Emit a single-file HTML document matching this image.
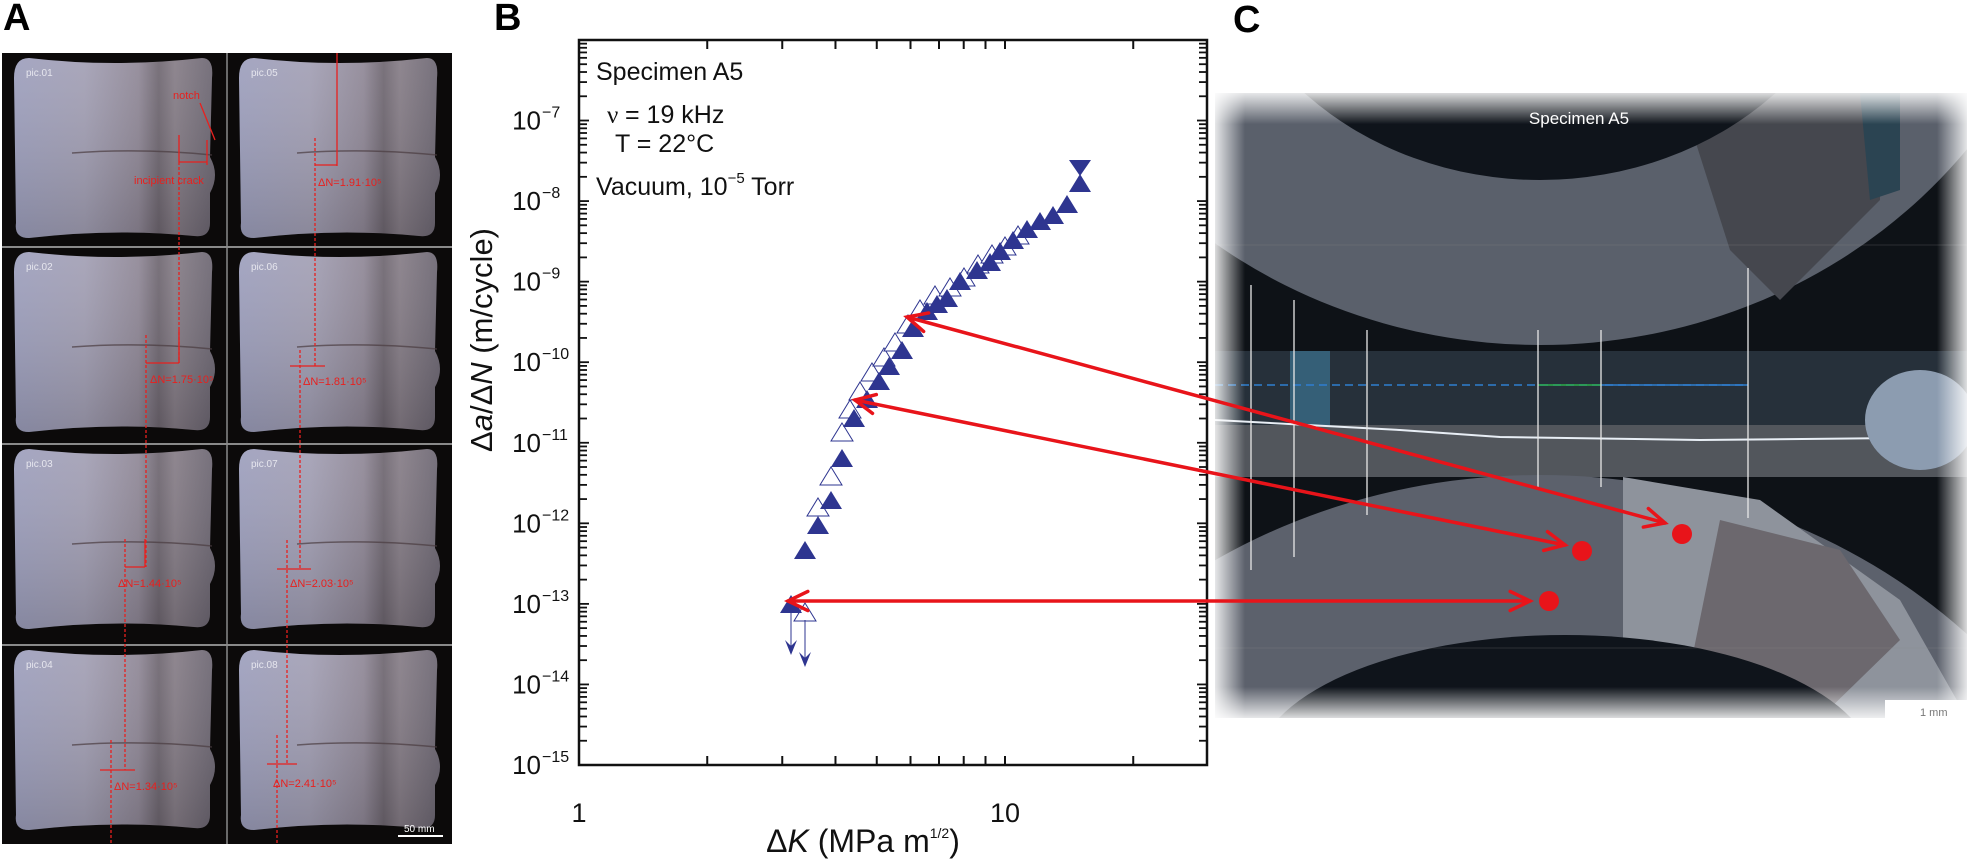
<!DOCTYPE html>
<html><head><meta charset="utf-8"><style>
html,body{margin:0;padding:0;background:#fff;width:1985px;height:859px;overflow:hidden;}
svg{display:block;font-family:"Liberation Sans",sans-serif;}
</style></head><body>
<svg id="s" width="1985" height="859" viewBox="0 0 1985 859" xmlns="http://www.w3.org/2000/svg">
<defs>
<linearGradient id="scr" x1="0" x2="1" y1="0" y2="0">
<stop offset="0" stop-color="#9d9fbd"/><stop offset="0.35" stop-color="#a29fb4"/>
<stop offset="0.62" stop-color="#8f8796"/><stop offset="0.72" stop-color="#6e6670"/>
<stop offset="0.8" stop-color="#857c86"/><stop offset="1" stop-color="#6a6470"/>
</linearGradient>
<linearGradient id="scrv" x1="0" x2="0" y1="0" y2="1">
<stop offset="0" stop-color="#fff" stop-opacity="0.08"/><stop offset="1" stop-color="#000" stop-opacity="0.15"/>
</linearGradient>
<linearGradient id="fl" x1="0" x2="1" y1="0" y2="0">
<stop offset="0" stop-color="#fff" stop-opacity="0.85"/><stop offset="0.04" stop-color="#fff" stop-opacity="0"/>
<stop offset="0.96" stop-color="#fff" stop-opacity="0"/><stop offset="1" stop-color="#fff" stop-opacity="0.85"/>
</linearGradient>
<linearGradient id="ft" x1="0" x2="0" y1="0" y2="1">
<stop offset="0" stop-color="#fff" stop-opacity="0.85"/><stop offset="0.05" stop-color="#fff" stop-opacity="0"/>
<stop offset="0.95" stop-color="#fff" stop-opacity="0"/><stop offset="1" stop-color="#fff" stop-opacity="0.85"/>
</linearGradient>
<clipPath id="cc"><rect x="1215" y="93" width="752" height="625"/></clipPath>
</defs>
<!-- Panel A -->
<text x="3" y="30" font-size="38" font-weight="bold">A</text>
<rect x="2" y="53" width="450" height="791" fill="#0c0a0a"/>
<g id="cells"></g>
<g stroke="#8a8a8a" stroke-width="2"><line x1="2" y1="247" x2="452" y2="247"/><line x1="2" y1="444" x2="452" y2="444"/><line x1="2" y1="645" x2="452" y2="645"/><line x1="227" y1="53" x2="227" y2="844" stroke-width="1.5"/></g>
<g id="ann" fill="none" stroke="#e8201e" stroke-width="1.3"></g>
<g font-family="Liberation Sans,sans-serif" font-size="11" fill="#e8201e">
<text x="173" y="99">notch</text><text x="134" y="184">incipient crack</text>
<text x="318" y="186">ΔN=1.91·10⁵</text><text x="150" y="383">ΔN=1.75·10⁵</text>
<text x="303" y="385">ΔN=1.81·10⁵</text><text x="118" y="587">ΔN=1.44·10⁵</text>
<text x="290" y="587">ΔN=2.03·10⁵</text><text x="114" y="790">ΔN=1.34·10⁵</text>
<text x="273" y="787">ΔN=2.41·10⁵</text>
</g>
<text x="404" y="832" font-size="10" fill="#fff">50 mm</text>
<rect x="398" y="835" width="45" height="2" fill="#fff"/>

<!-- Panel B -->
<text x="494" y="30" font-size="38" font-weight="bold">B</text>
<g id="axes"></g>
<g font-size="25" fill="#111">
<text x="596" y="80">Specimen A5</text>
<text x="607" y="123" font-family="Liberation Serif,serif">ν</text><text x="625" y="123">= 19 kHz</text>
<text x="615" y="152">T = 22°C</text>
<text x="596" y="195">Vacuum, 10<tspan font-size="15" dy="-12">−5</tspan><tspan dy="12"> Torr</tspan></text>
</g>
<text transform="translate(492,340) rotate(-90)" text-anchor="middle" font-size="31" fill="#111">Δ<tspan font-style="italic">a</tspan>/Δ<tspan font-style="italic">N</tspan> (m/cycle)</text>
<text x="579" y="822" text-anchor="middle" font-size="27" fill="#111">1</text>
<text x="1005" y="822" text-anchor="middle" font-size="27" fill="#111">10</text>
<text x="863" y="852" text-anchor="middle" font-size="32" fill="#111">Δ<tspan font-style="italic">K</tspan> (MPa m<tspan font-size="14" dy="-14">1/2</tspan><tspan dy="14">)</tspan></text>
<g id="data"></g>

<!-- Panel C -->
<text x="1233" y="32" font-size="38" font-weight="bold">C</text>
<g clip-path="url(#cc)">
<rect x="1215" y="93" width="752" height="625" fill="#0e1217"/>
<ellipse cx="1540" cy="-160" rx="540" ry="505" fill="#5a606b"/>
<path d="M1680,93 L1880,93 L1880,200 L1780,300 L1730,250 Z" fill="#45474e"/>
<path d="M1860,93 L1900,93 L1900,190 L1870,200 Z" fill="#2b4452"/>
<ellipse cx="1540" cy="-110" rx="330" ry="290" fill="#0f141b"/>
<rect x="1215" y="351" width="752" height="74" fill="#26303a"/>
<rect x="1290" y="351" width="40" height="74" fill="#3f7ea0" opacity="0.6"/>
<rect x="1215" y="425" width="752" height="52" fill="#52565c"/>
<path d="M1215,420 L1400,430 L1500,437 L1700,440 L1900,438" stroke="#e8eef5" stroke-width="2" fill="none"/>
<ellipse cx="1920" cy="420" rx="55" ry="50" fill="#8c9cb0"/>
<ellipse cx="1540" cy="1010" rx="600" ry="535" fill="#5c616c"/>
<path d="M1623,477 L1760,500 L1900,600 L1967,718 L1623,718 Z" fill="#8e939c"/>
<path d="M1720,520 L1840,550 L1900,640 L1820,718 L1680,718 Z" fill="#6c686e"/>
<ellipse cx="1565" cy="770" rx="310" ry="135" fill="#0f141b"/>
<line x1="1215" y1="385" x2="1748" y2="385" stroke="#2f7fd0" stroke-width="1.5" stroke-dasharray="8,5"/>
<line x1="1538" y1="385" x2="1601" y2="385" stroke="#2cae4a" stroke-width="1.5"/>
<line x1="1601" y1="385" x2="1748" y2="385" stroke="#2f7fd0" stroke-width="1.5"/>
<line x1="1215" y1="245" x2="1967" y2="245" stroke="#888" stroke-width="0.6" opacity="0.5"/>
<line x1="1215" y1="648" x2="1967" y2="648" stroke="#888" stroke-width="0.6" opacity="0.5"/>
<g stroke="#e8e8e8" stroke-width="1.3">
<line x1="1251" y1="285" x2="1251" y2="570"/><line x1="1294" y1="300" x2="1294" y2="557"/>
<line x1="1367" y1="330" x2="1367" y2="515"/><line x1="1538" y1="330" x2="1538" y2="487"/>
<line x1="1601" y1="330" x2="1601" y2="487"/><line x1="1748" y1="268" x2="1748" y2="518"/>
</g>
<rect x="1215" y="93" width="752" height="625" fill="url(#fl)"/>
<rect x="1215" y="93" width="752" height="625" fill="url(#ft)"/>
</g>
<text x="1579" y="124" text-anchor="middle" font-size="17" fill="#fff">Specimen A5</text>
<rect x="1885" y="700" width="85" height="22" fill="#fff"/>
<text x="1920" y="716" font-size="11" fill="#777">1 mm</text>
<g fill="#e8141a"><circle cx="1682" cy="534" r="10"/><circle cx="1582" cy="551" r="10"/><circle cx="1549" cy="601" r="10"/></g>
<g id="arr" stroke="#e8141a" stroke-width="3.5" fill="none" stroke-linecap="round"></g>
</svg>
<script>
const NS="http://www.w3.org/2000/svg";
function el(p,t,a){const e=document.createElementNS(NS,t);for(const k in a)e.setAttribute(k,a[k]);document.getElementById(p).appendChild(e);return e;}
const cols=[2,227],rows=[53,247,444,645],names=[["pic.01","pic.05"],["pic.02","pic.06"],["pic.03","pic.07"],["pic.04","pic.08"]];
rows.forEach((y,r)=>cols.forEach((x,c)=>{
 const w=200,h=180,sx=x+12,sy=y+5;
 const d=`M${sx+15},${sy} Q${sx+w/2},${sy+10} ${sx+w-12},${sy} Q${sx+w},${sy} ${sx+w-2},${sy+20} L${sx+w-4},${sy+h*0.55} Q${sx+w+6},${sy+h*0.65} ${sx+w-4},${sy+h*0.75} L${sx+w-4},${sy+h-15} Q${sx+w-4},${sy+h} ${sx+w-20},${sy+h-2} Q${sx+w/2},${sy+h-10} ${sx+15},${sy+h} Q${sx},${sy+h} ${sx+2},${sy+h-15} L${sx},${sy+20} Q${sx},${sy} ${sx+15},${sy} Z`;
 el("cells","path",{d:d,fill:"url(#scr)"});
 el("cells","path",{d:d,fill:"url(#scrv)"});
 el("cells","path",{d:`M${x+70},${y+100} Q${x+140},${y+95} ${x+210},${y+102}`,stroke:"#4a3c40","stroke-width":"1.5",fill:"none",opacity:"0.7"});
 const t=el("cells","text",{x:sx+12,y:sy+18,"font-size":"10",fill:"#e6e6ee"});t.textContent=names[r][c];
}));
const A=[
 ["line",179,135,179,162],["line",179,162,179,363,"3,2"],["line",207,140,207,165],["line",179,162,207,162],["line",200,103,215,140],
 ["line",337,53,337,166],["line",315,138,315,366,"3,2"],["line",315,165,337,165],
 ["line",146,335,146,567,"3,2"],["line",179,330,179,363],["line",146,363,179,363],
 ["line",300,350,300,569,"3,2"],["line",290,366,325,366],
 ["line",125,539,125,770,"3,2"],["line",145,539,145,567],["line",125,567,145,567],
 ["line",287,540,287,764,"3,2"],["line",277,569,311,569],
 ["line",111,740,111,844,"3,2"],["line",100,770,135,770],
 ["line",277,735,277,844,"3,2"],["line",267,764,297,764]
];
A.forEach(a=>{const o={x1:a[1],y1:a[2],x2:a[3],y2:a[4]};if(a[5])o["stroke-dasharray"]=a[5];el("ann","line",o);});
const L=579,R=1207,T=40,B=765,dec=426,ydec=80.56;
const X=k=>L+Math.log10(k)*dec, Y=e=>B-(e+15)*ydec;
el("axes","rect",{x:L,y:T,width:R-L,height:B-T,fill:"none",stroke:"#111","stroke-width":"2.5"});
for(let k of [2,3,4,5,6,7,8,9,10,20]){const x=X(k);el("axes","line",{x1:x,y1:B,x2:x,y2:B-9,stroke:"#111","stroke-width":"2"});el("axes","line",{x1:x,y1:T,x2:x,y2:T+9,stroke:"#111","stroke-width":"2"});}
for(let e=-15;e<-6;e++){for(let m=1;m<10;m++){const y=B-(e+15+Math.log10(m))*ydec;const len=m==1?10:8;
 el("axes","line",{x1:L,y1:y,x2:L+len,y2:y,stroke:"#111","stroke-width":"1.8"});el("axes","line",{x1:R,y1:y,x2:R-len,y2:y,stroke:"#111","stroke-width":"1.8"});}}
for(let e=-15;e<=-7;e++){const y=Y(e)+9;const t=el("axes","text",{x:541,y:y,"text-anchor":"end","font-size":"26",fill:"#111"});t.textContent="10";
 const s=el("axes","text",{x:542,y:y-12,"font-size":"16",fill:"#111"});s.textContent="−"+(-e);}
const F=[[791,605],[805,551],[818,526],[831,501],[842,459],[854,419],[867,400],[879,382],[889,367],[902,351],[913,329],[927,312],[937,305],[947,299],[960,282],[977,271],[990,263],[1000,252],[1013,241],[1027,230],[1040,222],[1053,216],[1067,205],[1080,184]];
const O=[[805,613],[818,508],[831,477],[842,433],[850,410],[860,392],[872,373],[884,358],[895,343],[908,325],[920,310],[935,296],[950,288],[964,278],[978,265],[992,255],[1005,247],[1018,236]];
O.forEach(p=>el("data","polygon",{points:`${p[0]},${p[1]-10} ${p[0]+11},${p[1]+8} ${p[0]-11},${p[1]+8}`,fill:"#fff",stroke:"#2e3590","stroke-width":"1"}));
F.forEach(p=>el("data","polygon",{points:`${p[0]},${p[1]-10} ${p[0]+11},${p[1]+8} ${p[0]-11},${p[1]+8}`,fill:"#2e3590"}));
el("data","polygon",{points:"1069,160 1091,160 1080,176",fill:"#2e3590"});
el("data","line",{x1:791,y1:612,x2:791,y2:650,stroke:"#2e3590","stroke-width":"1"});
el("data","polygon",{points:"785,640 791,655 797,640 791,646",fill:"#2e3590"});
el("data","line",{x1:805,y1:620,x2:805,y2:662,stroke:"#2e3590","stroke-width":"1"});
el("data","polygon",{points:"799,652 805,667 811,652 805,658",fill:"#2e3590"});
function dbl(x1,y1,x2,y2){el("arr","line",{x1:x1,y1:y1,x2:x2,y2:y2});
 [[x1,y1,x2,y2],[x2,y2,x1,y1]].forEach(([a,b,c,d])=>{const ang=Math.atan2(b-d,a-c),s=22,w=0.45;
  el("arr","polyline",{points:`${a-s*Math.cos(ang-w)},${b-s*Math.sin(ang-w)} ${a},${b} ${a-s*Math.cos(ang+w)},${b-s*Math.sin(ang+w)}`});});}
dbl(907,317,1665,523);dbl(855,400,1565,545);dbl(788,601,1530,601);
</script>
</body></html>
